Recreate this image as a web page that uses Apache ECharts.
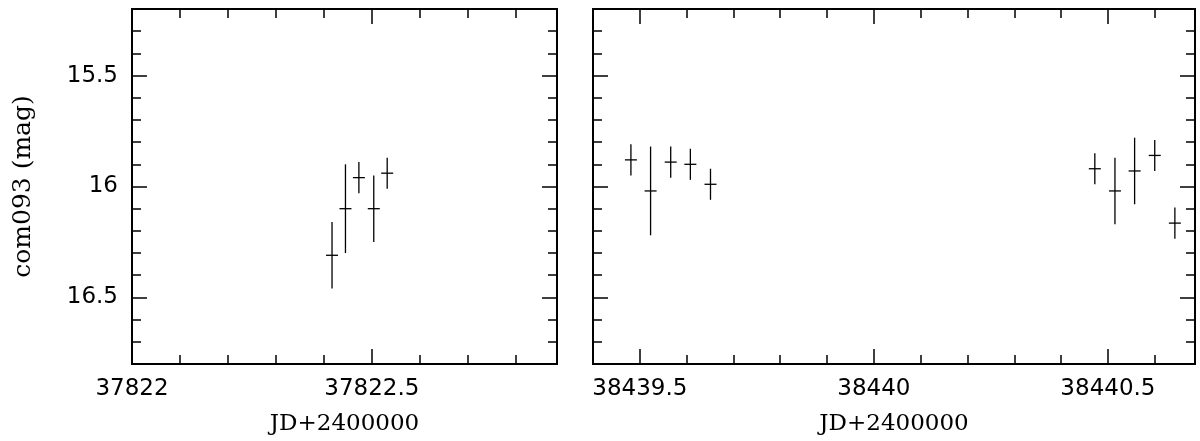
<!DOCTYPE html>
<html>
<head>
<meta charset="utf-8">
<script src="https://cdn.jsdelivr.net/npm/echarts@6/dist/echarts.min.js"></script>
<style>html,body{margin:0;padding:0;background:#fff}#c{width:1200px;height:441px}</style>
</head>
<body>
<div id="c"></div>
<script>
// ---- data ----
const leftJD  = [37822.417, 37822.445, 37822.473, 37822.504, 37822.532];
const leftMag = [16.31, 16.10, 15.96, 16.10, 15.94];
const leftErr = [0.15, 0.20, 0.07, 0.15, 0.07];

const rightJD  = [38439.481, 38439.523, 38439.566, 38439.608, 38439.651,
                  38440.472, 38440.515, 38440.557, 38440.600, 38440.643];
const rightMag = [15.88, 16.02, 15.89, 15.90, 15.99, 15.92, 16.02, 15.93, 15.86, 16.165];
const rightErr = [0.07, 0.20, 0.07, 0.07, 0.07, 0.07, 0.15, 0.15, 0.07, 0.07];

const leftXMajor  = [37822, 37822.5];
const leftXMinor  = [37822.1, 37822.2, 37822.3, 37822.4, 37822.6, 37822.7, 37822.8];
const rightXMajor = [38439.5, 38440, 38440.5];
const rightXMinor = [38439.6, 38439.7, 38439.8, 38439.9, 38440.1, 38440.2, 38440.3, 38440.4, 38440.6];
const yMajor = [15.5, 16, 16.5];
const yMinor = [15.3, 15.4, 15.6, 15.7, 15.8, 15.9, 16.1, 16.2, 16.3, 16.4, 16.6, 16.7];

const leftXRange  = [37822.0, 37822.886];
const rightXRange = [38439.4, 38440.686];
const yRange = [15.2, 16.8];

const xName = 'JD+2400000';
const yName = 'com093 (mag)';

// ---- chart ----
const FONT = 'DejaVu Sans';
const NAMEFONT = 'DejaVu Serif';
const TICKW = 1.5;

function mkAxis(kind, gi, pos, range, vals, len, labels, name) {
  const a = {
    type: 'value', gridIndex: gi, position: pos,
    min: range[0], max: range[1],
    axisLine: { show: false, onZero: false },
    splitLine: { show: false },
    axisTick: { show: true, inside: true, length: len, customValues: vals,
                lineStyle: { color: '#000', width: TICKW } },
    axisLabel: { show: false }
  };
  if (kind === 'y') a.inverse = true;
  if (labels) {
    a.axisLabel = { show: true, customValues: vals, color: '#000',
                    fontFamily: FONT, fontSize: 23, margin: 14,
                    formatter: v => String(+v.toFixed(2)) };
  }
  if (name) {
    a.name = name; a.nameLocation = 'middle';
    a.nameTextStyle = { fontFamily: NAMEFONT, fontSize: kind === 'x' ? 23 : 25, color: '#000' };
    a.nameGap = kind === 'x' ? 49 : 96;
  }
  return a;
}

const xAxis = [], yAxis = [];
function addGrid(gi, xr, xMaj, xMin, yLabels) {
  const xi = xAxis.length, yi = yAxis.length;
  xAxis.push(mkAxis('x', gi, 'bottom', xr, xMaj, 15, true, xName));
  xAxis.push(mkAxis('x', gi, 'bottom', xr, xMin, 9, false));
  xAxis.push(mkAxis('x', gi, 'top', xr, xMaj, 15, false));
  xAxis.push(mkAxis('x', gi, 'top', xr, xMin, 9, false));
  yAxis.push(mkAxis('y', gi, 'left', yRange, yMajor, 15, yLabels, yLabels ? yName : null));
  yAxis.push(mkAxis('y', gi, 'left', yRange, yMinor, 9, false));
  yAxis.push(mkAxis('y', gi, 'right', yRange, yMajor, 15, false));
  yAxis.push(mkAxis('y', gi, 'right', yRange, yMinor, 9, false));
  return [xi, yi];
}
const [lx, ly] = addGrid(0, leftXRange, leftXMajor, leftXMinor, true);
const [rx, ry] = addGrid(1, rightXRange, rightXMajor, rightXMinor, false);

function renderErr(params, api) {
  const x = api.value(0), m = api.value(1), e = api.value(2);
  const c = api.coord([x, m]);
  const t = api.coord([x, m - e]);
  const b = api.coord([x, m + e]);
  const st = { stroke: '#000', lineWidth: 1.3 };
  return { type: 'group', children: [
    { type: 'line', shape: { x1: c[0], y1: t[1], x2: c[0], y2: b[1] }, style: st },
    { type: 'line', shape: { x1: c[0] - 6, y1: c[1], x2: c[0] + 6, y2: c[1] }, style: st }
  ]};
}

const leftData = leftJD.map((v, i) => [v, leftMag[i], leftErr[i]]);
const rightData = rightJD.map((v, i) => [v, rightMag[i], rightErr[i]]);

const chart = echarts.init(document.getElementById('c'), null, { renderer: 'canvas' });
chart.setOption({
  animation: false,
  backgroundColor: '#fff',
  grid: [
    { left: 132, right: 643, top: 9, bottom: 73, show: true, borderColor: '#000', borderWidth: 2, containLabel: false },
    { left: 593, right: 5, top: 9, bottom: 73, show: true, borderColor: '#000', borderWidth: 2, containLabel: false }
  ],
  xAxis, yAxis,
  series: [
    { type: 'custom', xAxisIndex: lx, yAxisIndex: ly, data: leftData, renderItem: renderErr,
      encode: { x: 0, y: 1 } },
    { type: 'custom', xAxisIndex: rx, yAxisIndex: ry, data: rightData, renderItem: renderErr,
      encode: { x: 0, y: 1 } }
  ]
});
</script>
</body>
</html>
